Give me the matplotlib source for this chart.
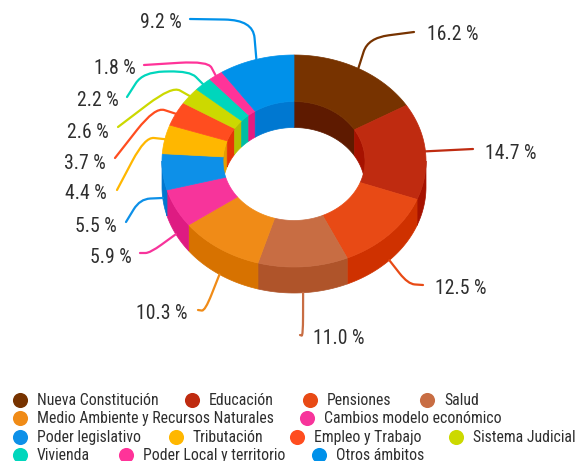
import numpy as np
import matplotlib.pyplot as plt
from matplotlib import font_manager
from matplotlib.path import Path
from matplotlib.patches import Polygon, PathPatch
import matplotlib.colors as mcolors

categories = ["Nueva Constitución", "Educación", "Pensiones", "Salud",
              "Medio Ambiente y Recursos Naturales", "Cambios modelo económico",
              "Poder legislativo", "Tributación", "Empleo y Trabajo",
              "Sistema Judicial", "Vivienda", "Poder Local y territorio",
              "Otros ámbitos"]
values = [16.2, 14.7, 12.5, 11.0, 10.3, 5.9, 5.5, 4.4, 3.7, 2.6, 2.2, 1.8, 9.2]
colors = ["#773300", "#BF2B10", "#E84A15", "#C86D43", "#F08B17", "#F7349B",
          "#0D90E8", "#FFB700", "#FF4D1F", "#CCD900", "#00D6BC", "#FF3399",
          "#0091EA"]

# label layout (pixels): text x, text y, alignment, bend points, line end
label_layout = [
    (427, 35, "left", [(368, 38)], (414, 32)),
    (485, 153, "left", [], (473, 149)),
    (435, 288, "left", [(408, 284)], (423, 285)),
    (313, 338, "left", [(303, 336)], (300, 335)),
    (188, 313, "right", [(205, 311)], (198, 310)),
    (132, 257, "right", [(150, 253)], (140, 253)),
    (117, 226, "right", [(140, 199)], (126, 222)),
    (107, 193, "right", [(145, 137)], (117, 190)),
    (106, 163, "right", [(155, 107)], (115, 158)),
    (109, 132, "right", [(172, 86)], (118, 127)),
    (119, 100, "right", [(190, 71), (143, 72)], (127, 97)),
    (136, 69, "right", [(208, 61)], (144, 65)),
    (182, 23, "right", [(253, 20)], (190, 19)),
]

legend_rows = [[0, 1, 2, 3], [4, 5], [6, 7, 8, 9], [10, 11, 12]]
legend_text_x = [[37, 209, 327, 444], [37, 324], [37, 193, 314, 473], [37, 143, 336]]
legend_y = [400, 418, 437, 455]

# font: prefer a condensed face
names = {f.name for f in font_manager.fontManager.ttflist}
font = "Roboto"
for cand in ["Roboto Condensed", "Liberation Sans Narrow"]:
    if cand in names:
        font = cand
        break
plt.rcParams["font.family"] = [font, "DejaVu Sans"]

cx, cy = 294, 161
rxo, ryo = 132, 106
rxi, ryi = 71, 59.5
thick = 26


def pt(r_x, r_y, th):
    return cx + r_x * np.cos(np.radians(th)), cy - r_y * np.sin(np.radians(th))


def arc(r_x, r_y, a, b, dy=0):
    th = np.linspace(a, b, max(int(abs(b - a)) * 2, 2))
    return np.column_stack([cx + r_x * np.cos(np.radians(th)),
                            cy - r_y * np.sin(np.radians(th)) + dy])


def darker(c):
    rgb = np.array(mcolors.to_rgb(c)) - 25 / 255
    return tuple(np.clip(rgb, 0, 1))


def wall(ax, r_x, r_y, a, b, c):
    top = arc(r_x, r_y, a, b)
    bot = arc(r_x, r_y, b, a, thick)
    ax.add_patch(Polygon(np.vstack([top, bot]), closed=True, fc=c, ec=c, lw=0.5))


fig = plt.figure(figsize=(5.77, 4.61), dpi=100)
ax = fig.add_axes([0, 0, 1, 1])
ax.set_xlim(0, 577)
ax.set_ylim(461, 0)
ax.axis("off")

cum = np.concatenate([[0], np.cumsum(values)])
starts = 90 - cum[:-1] * 3.6
ends = 90 - cum[1:] * 3.6

# inner back walls (visible through the hole)
for s, e, c in zip(starts, ends, colors):
    for lo, hi in [(0, 180), (-360, -180)]:
        a, b = min(s, hi), max(e, lo)
        if a > b:
            wall(ax, rxi, ryi, a, b, darker(c))

# outer front walls
for s, e, c in zip(starts, ends, colors):
    a, b = min(s, 0), max(e, -180)
    if a > b:
        wall(ax, rxo, ryo, a, b, darker(c))

# top face
for s, e, c in zip(starts, ends, colors):
    poly = np.vstack([arc(rxo, ryo, s, e), arc(rxi, ryi, e, s)])
    ax.add_patch(Polygon(poly, closed=True, fc=c, ec=c, lw=0.5))


def leader(p0, bends, p1):
    pts = [np.array(p0)] + [np.array(b, float) for b in bends] + [np.array(p1)]
    verts, codes = [pts[0]], [Path.MOVETO]
    for i in range(1, len(pts) - 1):
        prev, cur, nxt = pts[i - 1], pts[i], pts[i + 1]
        a = cur + (prev - cur) * 0.45
        b = cur + (nxt - cur) * 0.45
        verts += [a, cur, b]
        codes += [Path.LINETO, Path.CURVE3, Path.CURVE3]
    verts.append(pts[-1])
    codes.append(Path.LINETO)
    return Path(verts, codes)


mids = (starts + ends) / 2
for v, m, c, (tx, ty, ha, bends, end) in zip(values, mids, colors, label_layout):
    x0, y0 = pt(rxo, ryo, m)
    if np.sin(np.radians(m)) < 0:
        y0 += thick
    ax.add_patch(PathPatch(leader((x0, y0), bends, end), fill=False,
                           ec=c, lw=1.6, capstyle="round"))
    ax.text(tx, ty, f"{v:.1f} %", ha=ha, va="center", fontsize=14.2,
            color="#2e2e2e")

for row, xs, y in zip(legend_rows, legend_text_x, legend_y):
    for i, x in zip(row, xs):
        ax.scatter([x - 17], [y], s=118, color=colors[i], linewidths=0)
        ax.text(x, y, categories[i], ha="left", va="center",
                fontsize=11.3, color="#2e2e2e")

fig.savefig("out.png", dpi=100)
